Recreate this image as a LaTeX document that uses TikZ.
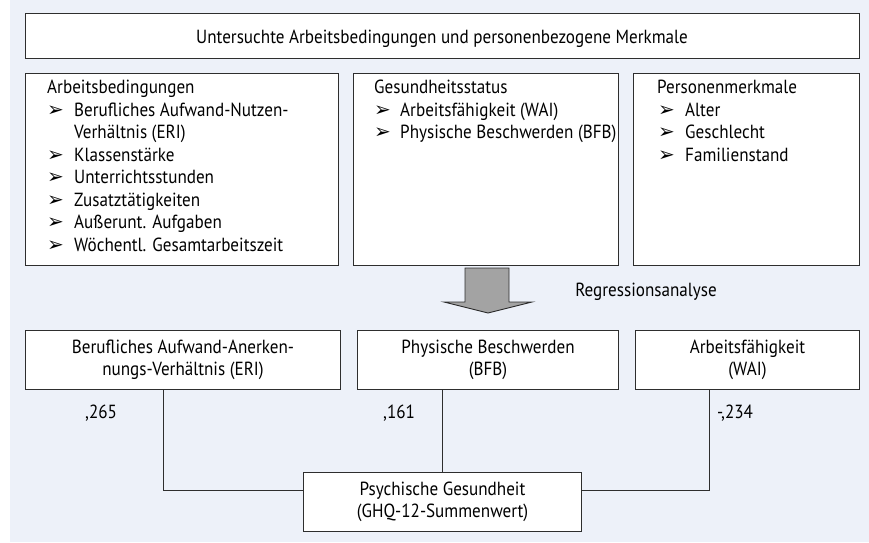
\documentclass[tikz,border=0pt]{standalone}
\usepackage{fontspec}
\setmainfont{PT Sans}[FakeStretch=0.9]
\newfontfamily\symfont{DejaVu Sans}
\definecolor{bgc}{HTML}{EDF1F9}
\definecolor{linec}{HTML}{2E2E2E}
\definecolor{arrowc}{HTML}{A3A3A3}
\newcommand{\fs}{\fontsize{19}{22.4}\selectfont}
\newcommand{\bul}{{\symfont\fontsize{20}{20}\selectfont ➢}}
\begin{document}
\begin{tikzpicture}[x=1pt,y=-1pt,
  box/.style={draw=linec, line width=1pt, fill=white, anchor=north west, inner sep=0pt},
  txt/.style={anchor=base west, inner sep=0pt, font=\fs, text=black},
  ctxt/.style={anchor=center, inner sep=0pt, font=\fs, text=black, align=center},
  conn/.style={draw=linec, line width=1pt},
  bulnode/.style={anchor=base west, inner sep=0pt, text=black}]
\useasboundingbox (0,0) rectangle (869,542);
\fill[bgc] (10,0) rectangle (869,542);

% top box
\node[box, minimum width=834pt, minimum height=45pt] (top) at (25,13) {};
\node[txt, anchor=base] (toptxt) at (442,43.5) {Untersuchte Arbeitsbedingungen und personenbezogene Merkmale};

% three boxes
\node[box, minimum width=313pt, minimum height=192pt] (ab) at (25,73) {};
\node[box, minimum width=265pt, minimum height=192pt] (gs) at (353,73) {};
\node[box, minimum width=226pt, minimum height=192pt] (pm) at (633,73) {};

% box 1 content
\node[txt] (ab0) at (47,93.5) {Arbeitsbedingungen};
\node[bulnode] (abb1) at (47,116) {\bul};
\node[txt] (ab1) at (74,116) {Berufliches Aufwand-Nutzen-};
\node[txt] (ab1b) at (74,138.5) {Verhältnis (ERI)};
\node[bulnode] (abb2) at (47,161) {\bul};
\node[txt] (ab2) at (74,161) {Klassenstärke};
\node[bulnode] (abb3) at (47,183.5) {\bul};
\node[txt] (ab3) at (74,183.5) {Unterrichtsstunden};
\node[bulnode] (abb4) at (47,206) {\bul};
\node[txt] (ab4) at (74,206) {Zusatztätigkeiten};
\node[bulnode] (abb5) at (47,228.5) {\bul};
\node[txt] (ab5) at (74,228.5) {Außerunt. Aufgaben};
\node[bulnode] (abb6) at (47,251) {\bul};
\node[txt] (ab6) at (74,251) {Wöchentl. Gesamtarbeitszeit};

% box 2 content
\node[txt] (gs0) at (374,93.5) {Gesundheitsstatus};
\node[bulnode] (gsb1) at (374,116) {\bul};
\node[txt] (gs1) at (400,116) {Arbeitsfähigkeit (WAI)};
\node[bulnode] (gsb2) at (374,138.5) {\bul};
\node[txt] (gs2) at (400,138.5) {Physische Beschwerden (BFB)};

% box 3 content
\node[txt] (pm0) at (657,93.5) {Personenmerkmale};
\node[bulnode] (pmb1) at (658,116) {\bul};
\node[txt] (pm1) at (685,116) {Alter};
\node[bulnode] (pmb2) at (658,138.5) {\bul};
\node[txt] (pm2) at (685,138.5) {Geschlecht};
\node[bulnode] (pmb3) at (658,161) {\bul};
\node[txt] (pm3) at (685,161) {Familienstand};

% block arrow
\filldraw[fill=arrowc, draw=linec, line width=0.9pt, line join=miter]
  (465,268) -- (509,268) -- (509,302) -- (532,302) -- (488,313) -- (444,302) -- (465,302) -- cycle;
\node[txt, anchor=base] (reg) at (646,296) {Regressionsanalyse};

% bottom boxes
\node[box, minimum width=315pt, minimum height=59pt] (eri) at (25,330) {};
\node[box, minimum width=261pt, minimum height=59pt] (bfb) at (357,330) {};
\node[box, minimum width=224pt, minimum height=59pt] (wai) at (635,330) {};
\node[box, minimum width=278pt, minimum height=59pt] (res) at (303,472) {};

\node[ctxt] (eritxt) at (eri.center) {Berufliches Aufwand-Anerken-\\nungs-Verhältnis (ERI)};
\node[ctxt] (bfbtxt) at (bfb.center) {Physische Beschwerden\\(BFB)};
\node[ctxt] (waitxt) at (wai.center) {Arbeitsfähigkeit\\(WAI)};
\node[ctxt] (restxt) at (res.center) {Psychische Gesundheit\\(GHQ-12-Summenwert)};

% connectors
\draw[conn] ([xshift=-19.5pt]eri.south) |- ([yshift=11.5pt]res.west);
\draw[conn] ([xshift=-45.5pt]bfb.south) -- ([xshift=-45.5pt]bfb.south |- res.north);
\draw[conn] ([xshift=-38pt]wai.south) |- ([yshift=11.5pt]res.east);

% coefficients
\node[txt] (c1) at (85,418) {,265};
\node[txt] (c2) at (383,418) {,161};
\node[txt] (c3) at (717,418) {-,234};
\end{tikzpicture}
\end{document}
